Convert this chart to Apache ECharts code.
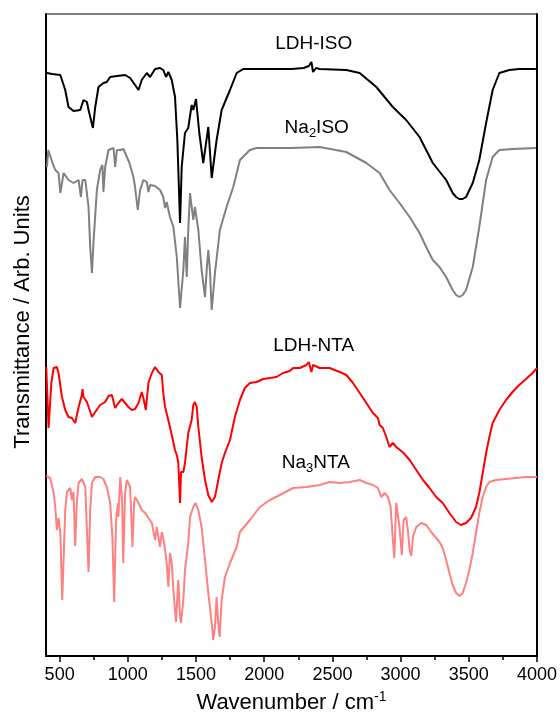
<!DOCTYPE html>
<html>
<head>
<meta charset="utf-8">
<script src="https://cdn.jsdelivr.net/npm/echarts@6/dist/echarts.min.js"></script>
<style>
  html, body { margin: 0; padding: 0; background: #fff; }
  #chart { width: 560px; height: 720px; }
</style>
</head>
<body>
<div id="chart"></div>
<script>
// FTIR 光谱 - 四条曲线 (透过率, 任意单位, 已上下错开)
const majorTicks = [500, 1000, 1500, 2000, 2500, 3000, 3500, 4000];
const minorTicks = [750, 1250, 1750, 2250, 2750, 3250, 3750];

// [波数 cm-1, 透过率]
const ldhIso = [
    [407,583],[446,582],[505,581],[541,566],[565,549],[602,545],[651,546],[675,556],[700,554],[712,546],
    [724,548],[744,528],[761,549],[785,569],[821,573],[846,574],[870,579],[920,580],[980,581],[1017,578],
    [1053,571],[1078,566],[1102,576],[1139,583],[1163,579],[1200,587],[1236,588],[1260,586],[1280,579],[1297,584],
    [1322,576],[1346,559],[1363,516],[1383,433],[1395,489],[1419,523],[1443,528],[1468,551],[1480,546],[1500,557],
    [1524,523],[1553,493],[1590,529],[1615,478],[1651,516],[1688,546],[1749,566],[1798,583],[1846,587],[1944,587],
    [2114,587],[2200,587],[2290,588],[2327,590],[2346,594],[2358,584],[2370,583],[2380,588],[2407,587],[2602,586],
    [2700,583],[2822,569],[2943,549],[3041,536],[3139,519],[3236,493],[3334,476],[3382,463],[3407,459],[3431,457],
    [3455,457],[3480,459],[3529,473],[3577,496],[3627,533],[3675,566],[3724,583],[3797,586],[3870,587],[3992,587]
];
const na2Iso = [
    [407,489],[417,506],[431,508],[448,493],[468,486],[492,483],[505,463],[529,483],[541,484],[565,476],
    [602,473],[639,476],[656,459],[668,476],[688,476],[712,449],[724,409],[737,383],[748,413],[773,466],
    [797,486],[814,491],[821,464],[834,489],[858,506],[895,508],[907,489],[920,506],[944,506],[968,507],
    [993,499],[1012,493],[1041,479],[1053,469],[1073,446],[1090,466],[1114,476],[1139,474],[1151,464],[1163,471],
    [1200,470],[1236,466],[1260,459],[1273,448],[1285,454],[1309,439],[1334,429],[1359,399],[1383,348],[1407,386],
    [1419,419],[1432,379],[1443,426],[1456,463],[1480,436],[1492,449],[1517,426],[1541,386],[1566,359],[1578,386],
    [1590,406],[1602,386],[1615,346],[1639,383],[1675,426],[1724,449],[1773,469],[1822,496],[1895,506],[1944,508],
    [2114,508],[2200,508],[2407,509],[2602,504],[2749,493],[2846,483],[2919,466],[2992,453],[3066,439],[3139,423],
    [3188,409],[3236,396],[3285,389],[3334,379],[3382,366],[3407,361],[3431,359],[3455,361],[3480,366],[3529,389],
    [3577,429],[3627,476],[3675,499],[3724,506],[3821,507],[3992,508]
];
const ldhNta = [
    [402,289],[419,228],[439,273],[456,288],[480,289],[492,283],[517,259],[541,246],[565,239],[590,238],
    [614,233],[639,249],[663,261],[668,267],[675,259],[700,254],[737,239],[761,244],[797,251],[834,254],
    [858,260],[883,261],[907,248],[931,253],[956,257],[980,253],[1004,249],[1029,246],[1053,247],[1078,253],
    [1102,264],[1114,258],[1132,246],[1151,273],[1176,283],[1200,289],[1224,284],[1249,281],[1260,263],[1273,249],
    [1297,236],[1322,221],[1346,206],[1361,200],[1370,193],[1383,153],[1390,184],[1407,184],[1419,193],[1443,223],
    [1468,236],[1480,251],[1492,254],[1505,249],[1517,229],[1541,199],[1566,176],[1590,161],[1615,154],[1639,159],
    [1663,176],[1688,193],[1712,203],[1749,216],[1785,239],[1822,256],[1858,268],[1895,273],[1944,274],[1992,277],
    [2041,278],[2090,279],[2138,283],[2187,285],[2212,288],[2261,288],[2310,291],[2327,294],[2346,284],[2358,291],
    [2407,288],[2480,288],[2553,284],[2602,281],[2651,273],[2700,263],[2749,253],[2797,243],[2834,238],[2846,231],
    [2870,228],[2895,219],[2919,209],[2943,213],[2968,209],[3022,203],[3066,196],[3115,186],[3164,176],[3212,168],
    [3261,159],[3309,153],[3358,143],[3407,134],[3443,131],[3480,133],[3516,138],[3553,149],[3577,163],[3602,183],
    [3627,203],[3651,219],[3675,233],[3724,246],[3773,256],[3821,264],[3870,271],[3919,277],[3968,283],[4000,288]
];
const na3Nta = [
    [402,180],[431,178],[456,163],[468,149],[480,126],[492,138],[505,123],[519,56],[529,96],[541,146],
    [554,164],[578,168],[590,156],[602,164],[614,110],[627,156],[639,173],[663,177],[688,169],[712,84],
    [724,146],[737,173],[761,179],[797,179],[821,177],[846,169],[870,153],[887,119],[900,54],[914,136],
    [927,153],[931,139],[944,179],[958,156],[966,93],[980,163],[993,176],[1017,169],[1034,109],[1046,153],
    [1053,159],[1078,153],[1102,146],[1127,143],[1151,138],[1176,133],[1200,116],[1212,129],[1224,128],[1236,109],
    [1249,124],[1260,118],[1273,106],[1285,93],[1297,69],[1309,103],[1322,93],[1334,66],[1353,34],[1370,76],
    [1383,39],[1390,33],[1407,56],[1419,86],[1443,113],[1456,139],[1480,149],[1497,153],[1517,146],[1541,129],
    [1566,96],[1590,63],[1615,33],[1626,16],[1639,29],[1651,59],[1663,33],[1673,19],[1688,56],[1712,79],
    [1749,93],[1798,109],[1822,124],[1895,136],[1968,149],[2041,156],[2114,161],[2212,168],[2310,169],[2407,171],
    [2480,174],[2553,173],[2627,174],[2700,176],[2749,173],[2797,171],[2834,168],[2858,159],[2883,163],[2907,159],
    [2927,149],[2943,116],[2954,98],[2968,153],[2980,153],[2992,129],[3009,101],[3022,136],[3041,139],[3053,126],
    [3066,106],[3078,100],[3090,119],[3115,129],[3152,133],[3188,131],[3224,124],[3261,118],[3285,114],[3309,108],
    [3334,96],[3358,83],[3382,71],[3407,63],[3431,60],[3455,63],[3480,73],[3504,86],[3529,103],[3553,123],
    [3577,143],[3602,159],[3627,169],[3651,174],[3700,176],[3773,177],[3846,178],[3919,179],[4000,179]
];

// 曲线名称位置 [波数, 透过率]
const labelPos = {
    ldhIso: [2363, 612],
    na2Iso: [2385, 528],
    ldhNta: [2363, 310],
    na3Nta: [2378, 193]
};

const FONT = 'Liberation Sans, Arial, sans-serif';
const labelRich = {
    t: { fontSize: 19, lineHeight: 23, color: '#000', fontFamily: FONT },
    s: { fontSize: 13, lineHeight: 13, padding: [10, 0, 0, 0], verticalAlign: 'bottom', color: '#000', fontFamily: FONT }
};

function curve(name, data, color, text, pos) {
    return {
        name: name,
        type: 'line',
        data: data,
        symbol: 'none',
        smooth: false,
        lineStyle: { color: color, width: 2 },
        itemStyle: { color: color },
        markPoint: {
            symbol: 'circle',
            symbolSize: 0,
            silent: true,
            label: {
                show: true,
                position: 'inside',
                formatter: text,
                rich: labelRich
            },
            data: [{ coord: pos }]
        }
    };
}

const chart = echarts.init(document.getElementById('chart'));
chart.setOption({
    animation: false,
    backgroundColor: '#fff',
    grid: {
        left: 46,
        right: 22,
        top: 14,
        bottom: 64,
        show: true,
        borderColor: '#000',
        borderWidth: 1
    },
    xAxis: [
        {
            type: 'value',
            min: 400,
            max: 4000,
            position: 'bottom',
            name: '{a|Wavenumber / cm}{b|-1}',
            nameLocation: 'middle',
            nameGap: 34,
            nameTextStyle: {
                rich: {
                    a: { fontSize: 22, lineHeight: 26, color: '#000', fontFamily: FONT },
                    b: { fontSize: 14, lineHeight: 14, verticalAlign: 'top', color: '#000', fontFamily: FONT }
                }
            },
            axisLine: { lineStyle: { color: '#000', width: 2 } },
            axisTick: {
                customValues: majorTicks,
                length: 6,
                lineStyle: { color: '#000', width: 1.5 }
            },
            axisLabel: {
                customValues: majorTicks,
                formatter: v => String(v),
                fontSize: 18,
                color: '#000',
                margin: 10,
                fontFamily: FONT
            },
            splitLine: { show: false }
        },
        {
            type: 'value',
            min: 400,
            max: 4000,
            position: 'bottom',
            axisLine: { show: false },
            axisTick: {
                customValues: minorTicks,
                length: 4,
                lineStyle: { color: '#000', width: 1.5 }
            },
            axisLabel: { show: false },
            splitLine: { show: false }
        }
    ],
    yAxis: [
        {
            type: 'value',
            min: 0,
            max: 642,
            name: 'Transmittance / Arb. Units',
            nameLocation: 'middle',
            nameGap: 12,
            nameTextStyle: { fontSize: 22, color: '#000', fontFamily: FONT, padding: [0, 0, 0, 26] },
            axisLine: { show: true, lineStyle: { color: '#000', width: 2 } },
            axisTick: { show: false },
            axisLabel: { show: false },
            splitLine: { show: false }
        },
        {
            type: 'value',
            min: 0,
            max: 642,
            position: 'right',
            axisLine: { show: true, lineStyle: { color: '#000', width: 2 } },
            axisTick: { show: false },
            axisLabel: { show: false },
            splitLine: { show: false }
        }
    ],
    series: [
        curve('Na3NTA', na3Nta, '#ff8080', '{t|Na}{s|3}{t|NTA}', labelPos.na3Nta),
        curve('LDH-NTA', ldhNta, '#ff0000', '{t|LDH-NTA}', labelPos.ldhNta),
        curve('Na2ISO', na2Iso, '#808080', '{t|Na}{s|2}{t|ISO}', labelPos.na2Iso),
        curve('LDH-ISO', ldhIso, '#000000', '{t|LDH-ISO}', labelPos.ldhIso)
    ]
});
</script>
</body>
</html>
